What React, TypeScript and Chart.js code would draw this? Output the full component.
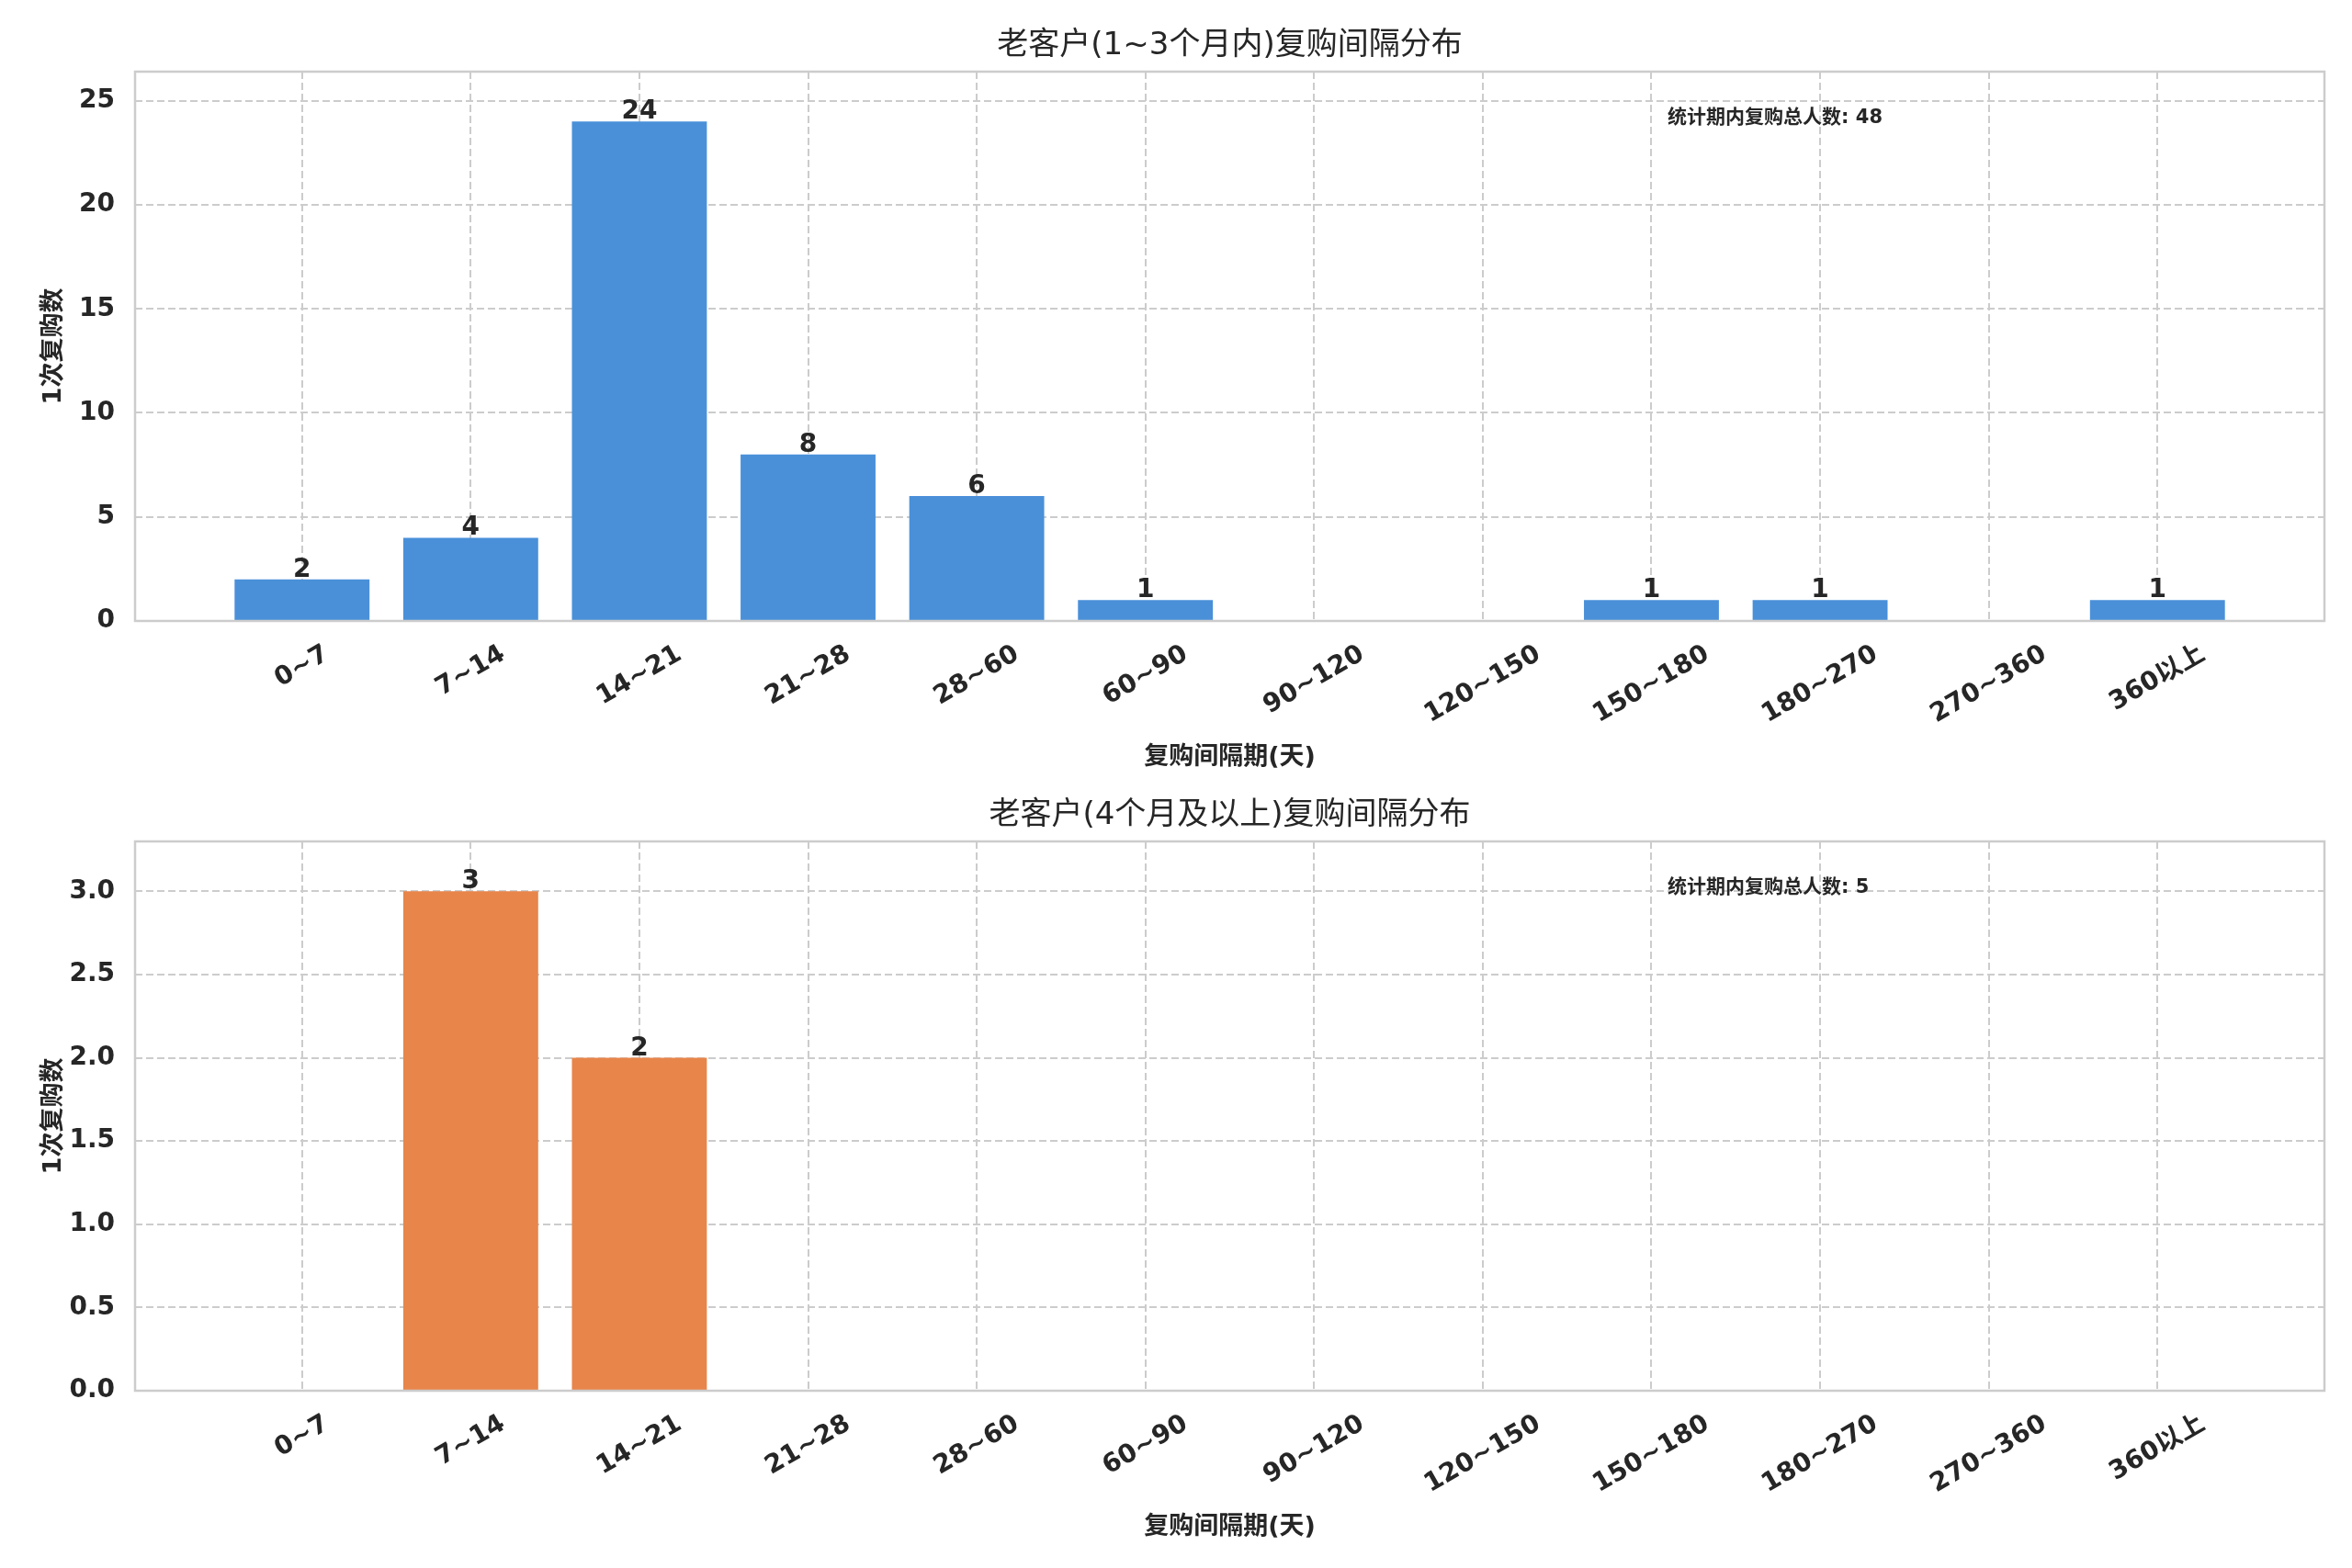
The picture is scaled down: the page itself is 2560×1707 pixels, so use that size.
import React, { useRef, useEffect } from "react";
import { Chart, Plugin, registerables } from "chart.js";

Chart.register(...registerables);

// interval buckets (days)
const categories = [
  "0~7", "7~14", "14~21", "21~28", "28~60", "60~90",
  "90~120", "120~150", "150~180", "180~270", "270~360", "360以上",
];
const shortTermCounts = [2, 4, 24, 8, 6, 1, 0, 0, 1, 1, 0, 1];
const longTermCounts = [0, 3, 2, 0, 0, 0, 0, 0, 0, 0, 0, 0];
const shortTermTicks = [0, 5, 10, 15, 20, 25];
const longTermTicks = [0, 0.5, 1, 1.5, 2, 2.5, 3];

const SHORT_TITLE = "老客户(1~3个月内)复购间隔分布";
const LONG_TITLE = "老客户(4个月及以上)复购间隔分布";
const X_LABEL = "复购间隔期(天)";
const Y_LABEL = "1次复购数";
const TOTAL_LABEL = "统计期内复购总人数";

const FONT = "'DejaVu Sans', 'Noto Sans CJK SC', sans-serif";
const TEXT = "#262626";
const GRID = "#cccccc";
const TICK_SIZE = 28;

interface PanelProps {
  title: string;
  values: number[];
  yTicks: number[];
  color: string;
  decimals: number;
}

const Panel: React.FC<PanelProps> = ({ title, values, yTicks, color, decimals }) => {
  const canvasRef = useRef<HTMLCanvasElement | null>(null);
  const chartRef = useRef<Chart | null>(null);

  useEffect(() => {
    if (!canvasRef.current) return;
    const ctx = canvasRef.current.getContext("2d");
    if (!ctx) return;

    const total = values.reduce((a, b) => a + b, 0);

    const decorations: Plugin<"bar"> = {
      id: "decorations",
      afterDatasetsDraw(chart) {
        const { ctx, chartArea: a } = chart;
        const w = a.right - a.left;
        const h = a.bottom - a.top;
        ctx.save();
        // spines
        ctx.strokeStyle = GRID;
        ctx.lineWidth = 2.5;
        ctx.strokeRect(a.left, a.top, w, h);

        // value labels on bars
        ctx.fillStyle = TEXT;
        ctx.font = `bold ${TICK_SIZE}px ${FONT}`;
        ctx.textAlign = "center";
        ctx.textBaseline = "alphabetic";
        chart.getDatasetMeta(0).data.forEach((bar, i) => {
          if (!values[i]) return;
          ctx.fillText(String(values[i]), bar.x, bar.y - 3);
        });

        // total note
        ctx.font = `bold 21px ${FONT}`;
        ctx.textAlign = "left";
        ctx.textBaseline = "middle";
        ctx.fillText(`${TOTAL_LABEL}: ${total}`, a.left + 0.7 * w, a.top + 0.085 * h);

        // rotated x tick labels, centred under the tick like matplotlib
        const xs = chart.scales.x;
        const ang = Math.PI / 6;
        ctx.font = `bold ${TICK_SIZE}px ${FONT}`;
        ctx.textAlign = "center";
        ctx.textBaseline = "middle";
        categories.forEach((label, i) => {
          const tw = ctx.measureText(label).width;
          const th = TICK_SIZE * 1.17;
          const cy = a.bottom + 20 + (tw * Math.sin(ang) + th * Math.cos(ang)) / 2;
          ctx.save();
          ctx.translate(xs.getPixelForValue(i), cy);
          ctx.rotate(-ang);
          ctx.fillText(label, 0, 0);
          ctx.restore();
        });
        ctx.restore();
      },
    };

    chartRef.current = new Chart(ctx, {
      type: "bar",
      data: {
        datasets: [
          {
            data: values.map((v, i) => ({ x: i, y: v })),
            backgroundColor: color,
            borderWidth: 0,
            categoryPercentage: 1,
            barPercentage: 0.8,
          },
        ],
      },
      options: {
        animation: false,
        responsive: false,
        devicePixelRatio: 1,
        layout: { padding: { left: 0, right: 30, top: 0, bottom: 0 } },
        plugins: {
          legend: { display: false },
          tooltip: { enabled: false },
          title: {
            display: true,
            text: title,
            fullSize: false,
            color: TEXT,
            font: { family: FONT, size: 34, weight: "normal" },
            padding: { top: 30, bottom: 7.2 },
          },
        },
        scales: {
          x: {
            type: "linear",
            min: -0.99,
            max: 11.99,
            offset: false,
            afterBuildTicks: (s) => {
              s.ticks = categories.map((_, i) => ({ value: i }));
            },
            afterFit: (s) => {
              s.height = 162;
            },
            ticks: { display: false },
            grid: { color: GRID, lineWidth: 2, drawTicks: false, offset: false },
            border: { display: false, dash: [8, 4] },
            title: {
              display: true,
              text: X_LABEL,
              color: TEXT,
              font: { family: FONT, size: 27, weight: "bold" },
              padding: { top: 0, bottom: -3 },
            },
          },
          y: {
            type: "linear",
            min: 0,
            max: Math.max(...values) * 1.1,
            afterBuildTicks: (s) => {
              s.ticks = yTicks.map((v) => ({ value: v }));
            },
            afterFit: (s) => {
              s.width = 147;
            },
            ticks: {
              color: TEXT,
              padding: 22,
              font: { family: FONT, size: TICK_SIZE, weight: "bold" },
              callback: (v) => Number(v).toFixed(decimals),
            },
            grid: { color: GRID, lineWidth: 2, drawTicks: false },
            border: { display: false, dash: [8, 4] },
            title: {
              display: true,
              text: Y_LABEL,
              color: TEXT,
              font: { family: FONT, size: 27, weight: "bold" },
              padding: { top: 43, bottom: 0 },
            },
          },
        },
      },
      plugins: [decorations],
    });

    return () => {
      chartRef.current?.destroy();
    };
  }, [title, values, yTicks, color, decimals]);

  return (
    <canvas
      ref={canvasRef}
      width={2560}
      height={838}
      style={{ display: "block", width: 2560, height: 838 }}
    ></canvas>
  );
};

export default function App() {
  return (
    <div
      style={{
        position: "absolute",
        left: 0,
        top: 0,
        width: 2560,
        height: 1707,
        background: "#ffffff",
      }}
    >
      <Panel title={SHORT_TITLE} values={shortTermCounts} yTicks={shortTermTicks} color="#4a90d9" decimals={0} />
      <Panel title={LONG_TITLE} values={longTermCounts} yTicks={longTermTicks} color="#e8854a" decimals={1} />
    </div>
  );
}
